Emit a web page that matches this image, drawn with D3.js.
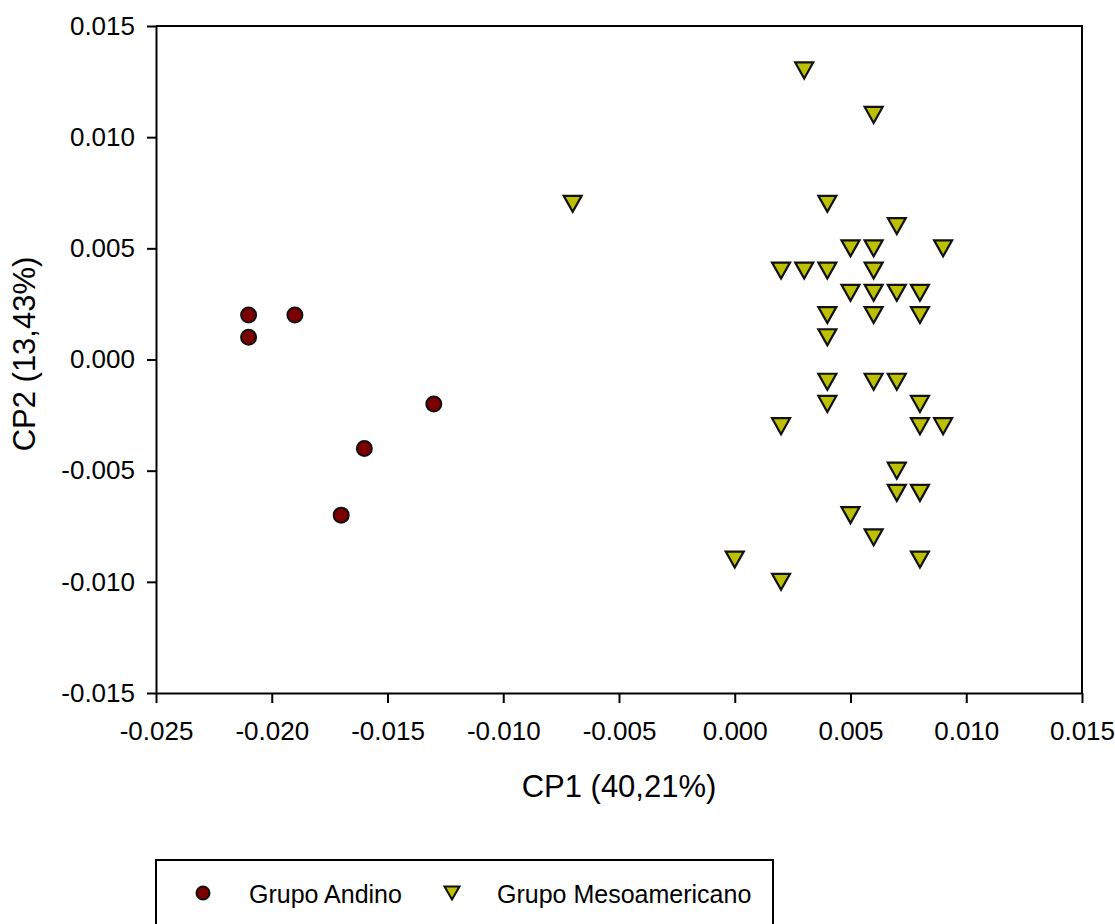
<!DOCTYPE html>
<html>
<head>
<meta charset="utf-8">
<script src="https://cdn.jsdelivr.net/npm/d3@7"></script>
<style>
  html, body { margin: 0; padding: 0; background: #fff; }
  svg { display: block; }
  text { font-family: "Liberation Sans", Arial, sans-serif; fill: #000; }
</style>
</head>
<body>
<svg id="chart" width="1115" height="924"></svg>
<script>
// ---- data ----
const andinoX = [-0.021, -0.021, -0.019, -0.013, -0.016, -0.017];
const andinoY = [ 0.002,  0.001,  0.002, -0.002, -0.004, -0.007];

const mesoX = [0.003, 0.006, -0.007, 0.004, 0.007,
  0.005, 0.006, 0.009,
  0.002, 0.003, 0.004, 0.006,
  0.005, 0.006, 0.007, 0.008,
  0.004, 0.006, 0.008,
  0.004,
  0.004, 0.006, 0.007,
  0.004, 0.008,
  0.002, 0.008, 0.009,
  0.007,
  0.007, 0.008,
  0.005,
  0.006,
  0.000, 0.008,
  0.002];
const mesoY = [0.013, 0.011, 0.007, 0.007, 0.006,
  0.005, 0.005, 0.005,
  0.004, 0.004, 0.004, 0.004,
  0.003, 0.003, 0.003, 0.003,
  0.002, 0.002, 0.002,
  0.001,
  -0.001, -0.001, -0.001,
  -0.002, -0.002,
  -0.003, -0.003, -0.003,
  -0.005,
  -0.006, -0.006,
  -0.007,
  -0.008,
  -0.009, -0.009,
  -0.010];

const xTickValues = [-0.025, -0.020, -0.015, -0.010, -0.005, 0.000, 0.005, 0.010, 0.015];
const xTickLabels = ["-0.025", "-0.020", "-0.015", "-0.010", "-0.005", "0.000", "0.005", "0.010", "0.015"];
const yTickValues = [-0.015, -0.010, -0.005, 0.000, 0.005, 0.010, 0.015];
const yTickLabels = ["-0.015", "-0.010", "-0.005", "0.000", "0.005", "0.010", "0.015"];

const xTitle = "CP1 (40,21%)";
const yTitle = "CP2 (13,43%)";
const seriesNames = ["Grupo Andino", "Grupo Mesoamericano"];

// ---- layout ----
const svg = d3.select("#chart");
const L = 156, R = 1082, T = 26, B = 693;
const x = d3.scaleLinear().domain([-0.025, 0.015]).range([L, R]);
const y = d3.scaleLinear().domain([-0.015, 0.015]).range([B, T]);

const tickFont = 26, titleFont = 31, legendFont = 25;
const andinoFill = "#7d0000";
const mesoFill = "#bcc000";
const FF = "Liberation Sans, Arial, sans-serif";

// frame (top and right)
svg.append("path")
  .attr("d", `M${L},${T}H${R}V${B}`)
  .attr("fill", "none").attr("stroke", "#000").attr("stroke-width", 2);

// x axis
const xAxis = d3.axisBottom(x)
  .tickValues(xTickValues)
  .tickFormat((d, i) => xTickLabels[i])
  .tickSizeInner(10).tickSizeOuter(0).tickPadding(19);
const gx = svg.append("g").attr("transform", `translate(0,${B})`).call(xAxis);
gx.attr("font-family", FF);
gx.select(".domain").attr("stroke-width", 2);
gx.selectAll(".tick line").attr("stroke-width", 2);
gx.selectAll(".tick text").attr("font-size", tickFont);

// y axis
const yAxis = d3.axisLeft(y)
  .tickValues(yTickValues)
  .tickFormat((d, i) => yTickLabels[i])
  .tickSizeInner(9).tickSizeOuter(0).tickPadding(12);
const gy = svg.append("g").attr("transform", `translate(${L},0)`).call(yAxis);
gy.attr("font-family", FF);
gy.select(".domain").attr("stroke-width", 2);
gy.selectAll(".tick line").attr("stroke-width", 2);
gy.selectAll(".tick text").attr("font-size", tickFont);

// axis titles
svg.append("text")
  .attr("x", (L + R) / 2).attr("y", 797)
  .attr("text-anchor", "middle").attr("font-size", titleFont)
  .text(xTitle);
svg.append("text")
  .attr("transform", `translate(35,354) rotate(-90)`)
  .attr("text-anchor", "middle").attr("font-size", titleFont)
  .text(yTitle);

// markers
function triPath(w, h) {
  return `M${-w/2},${-h/2}L${w/2},${-h/2}L0,${h/2}Z`;
}

const andino = andinoX.map((v, i) => ({x: v, y: andinoY[i]}));
const meso = mesoX.map((v, i) => ({x: v, y: mesoY[i]}));

svg.append("g").selectAll("circle").data(andino).join("circle")
  .attr("cx", d => x(d.x)).attr("cy", d => y(d.y)).attr("r", 7.5)
  .attr("fill", andinoFill).attr("stroke", "#111").attr("stroke-width", 2);

svg.append("g").selectAll("path").data(meso).join("path")
  .attr("transform", d => `translate(${x(d.x)},${y(d.y)})`)
  .attr("d", triPath(18, 16))
  .attr("fill", mesoFill).attr("stroke", "#111").attr("stroke-width", 2.2)
  .attr("stroke-linejoin", "miter");

// legend
const lg = svg.append("g");
lg.append("rect").attr("x", 156).attr("y", 860).attr("width", 617).attr("height", 90)
  .attr("fill", "none").attr("stroke", "#000").attr("stroke-width", 2);
lg.append("circle").attr("cx", 203).attr("cy", 893).attr("r", 6.5)
  .attr("fill", andinoFill).attr("stroke", "#111").attr("stroke-width", 2);
lg.append("text").attr("x", 249).attr("y", 903).attr("font-size", legendFont).text(seriesNames[0]);
lg.append("path").attr("transform", "translate(452,893)").attr("d", triPath(15, 13))
  .attr("fill", mesoFill).attr("stroke", "#111").attr("stroke-width", 2);
lg.append("text").attr("x", 497).attr("y", 903).attr("font-size", legendFont).text(seriesNames[1]);
</script>
</body>
</html>
